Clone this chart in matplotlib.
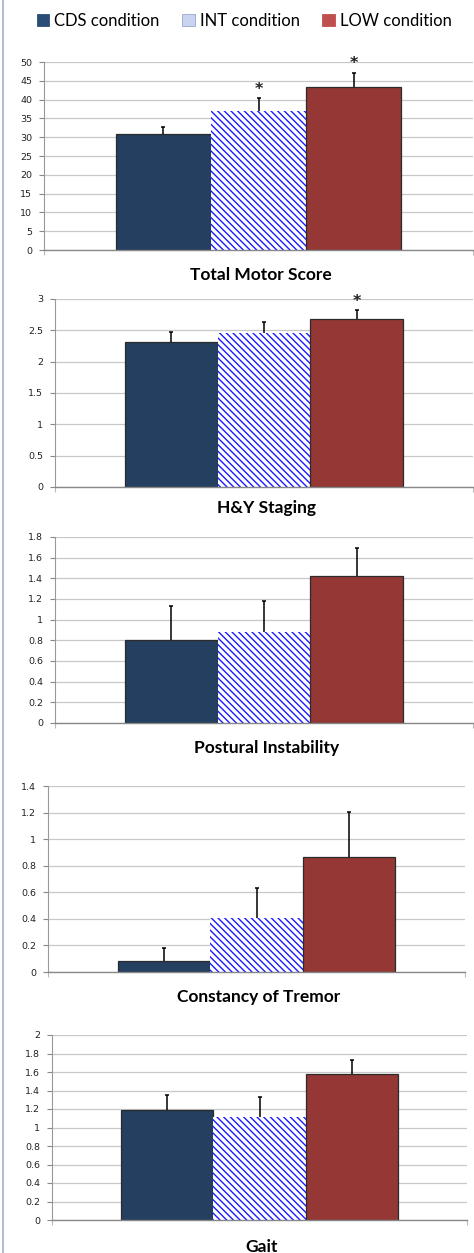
import matplotlib
matplotlib.use("Agg")
import matplotlib.pyplot as plt
from matplotlib.patches import Patch
from matplotlib.lines import Line2D

W, H = 474, 1253

conditions = ["CDS condition", "INT condition", "LOW condition"]
titles = ["Total Motor Score", "H&Y Staging", "Postural Instability",
          "Constancy of Tremor", "Gait"]

# means and upper error (SE) per panel, order CDS, INT, LOW
cds_means = [30.9, 2.31, 0.80, 0.086, 1.19]
int_means = [37.0, 2.455, 0.885, 0.41, 1.115]
low_means = [43.3, 2.68, 1.42, 0.865, 1.58]
cds_err = [1.8, 0.16, 0.33, 0.095, 0.16]
int_err = [3.3, 0.175, 0.30, 0.225, 0.21]
low_err = [3.9, 0.14, 0.27, 0.34, 0.155]

# significance stars: (panel, condition index)
stars = [(0, 1), (0, 2), (1, 2)]

y_max = [50, 3, 1.8, 1.4, 2]
y_step = [5, 0.5, 0.2, 0.2, 0.2]

# axes boxes in pixels: left, right, top, bottom
boxes = [(44, 473, 62, 250),
         (55, 473, 299, 487),
         (55, 473, 537, 723),
         (48, 465, 786, 972),
         (52, 467, 1035, 1220)]
title_y = [275, 508, 748, 997, 1247]

fill_colors = ["#243f60", "white", "#953735"]
hatch_color = "#1a1aff"
legend_colors = ["#2a4d77", "#c9d3f2", "#c0504d"]

plt.rcParams["hatch.linewidth"] = 1.0

fig = plt.figure(figsize=(W / 100, H / 100), dpi=100)

for i in range(5):
    l, r, t, b = boxes[i]
    ax = fig.add_axes([l / W, 1 - b / H, (r - l) / W, (b - t) / H])
    means = [cds_means[i], int_means[i], low_means[i]]
    errs = [cds_err[i], int_err[i], low_err[i]]
    width = 0.222
    for j in range(3):
        x = (j - 1) * width
        if j == 1:
            ax.bar(x, means[j], width, color="white", edgecolor=hatch_color,
                   hatch="\\\\\\\\\\", linewidth=0, zorder=2)
        else:
            ax.bar(x, means[j], width, color=fill_colors[j],
                   edgecolor="#2b2b2b", linewidth=0.9, zorder=2)
        eb = ax.errorbar(x, means[j], yerr=[[0], [errs[j]]], fmt="none",
                         ecolor="black", elinewidth=1.1, capsize=1.6,
                         capthick=1.1, zorder=3)
        eb[1][0].set_visible(False)  # no cap at the bar top
        if (i, j) in stars:
            ax.annotate("*", (x, means[j] + errs[j]), xytext=(0, 1),
                        textcoords="offset points", ha="center", va="bottom",
                        fontsize=11.5, fontweight="bold", color="#222222")
    ax.set_xlim(-0.5, 0.5)
    ax.set_ylim(0, y_max[i])
    n = int(round(y_max[i] / y_step[i]))
    ticks = [round(k * y_step[i], 2) for k in range(n + 1)]
    ax.set_yticks(ticks)
    ax.set_yticklabels([("%g" % v) for v in ticks], fontsize=6.8,
                       color="#222222")
    ax.set_xticks([-0.5, 0.5])
    ax.set_xticklabels([])
    ax.tick_params(axis="y", length=3.5, width=0.8, color="#888888", pad=5)
    ax.tick_params(axis="x", length=3.5, width=0.8, color="#bbbbbb")
    ax.grid(axis="y", color="#c8c8c8", linewidth=0.9, zorder=0)
    ax.set_axisbelow(True)
    for s in ["top", "right"]:
        ax.spines[s].set_visible(False)
    ax.spines["left"].set_color("#999999")
    ax.spines["bottom"].set_color("#888888")
    ax.spines["left"].set_linewidth(0.8)
    ax.spines["bottom"].set_linewidth(1.0)
    fig.text((l + r) / 2 / W + 0.005, 1 - title_y[i] / H, titles[i],
             ha="center", va="center", fontsize=12.5, fontweight="bold",
             family="Lato")

handles = [Patch(facecolor=c, edgecolor="#9aa6c8" if k == 1 else c,
                 linewidth=0.6) for k, c in enumerate(legend_colors)]
fig.legend(handles, conditions, loc="center", ncol=3,
           bbox_to_anchor=(0.515, 1 - 21 / H), frameon=False,
           prop={"family": "Lato", "size": 12}, handlelength=0.75,
           handleheight=0.75, handletextpad=0.3, columnspacing=1.35)

fig.add_artist(Line2D([2.5 / W, 2.5 / W], [0, 1], color="#9fb2cc",
                      linewidth=1.2))

fig.savefig("out.png", dpi=100)
